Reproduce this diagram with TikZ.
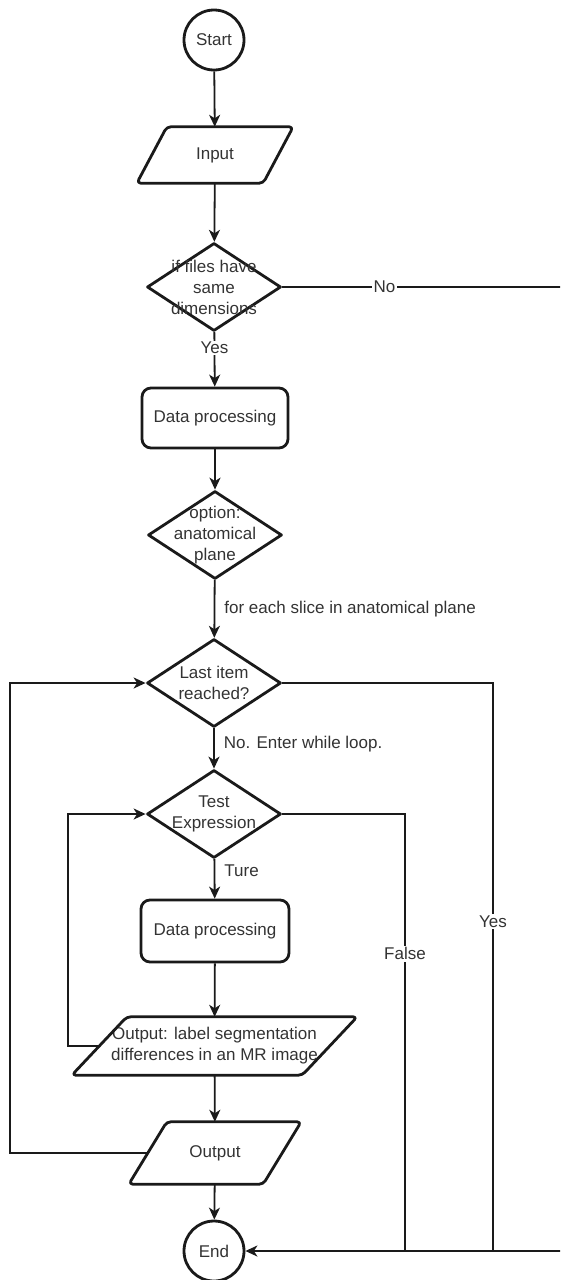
\documentclass[tikz,border=0pt]{standalone}
\usepackage{fontspec}
\setmainfont{Liberation Sans}
\usetikzlibrary{shapes.geometric,arrows.meta}
\definecolor{ink}{HTML}{1A1A1A}
\definecolor{txt}{HTML}{333333}
\tikzset{
  base/.style={font=\fontsize{17}{21}\selectfont, text=txt, align=center},
  shapeline/.style={draw=ink, line width=2.8pt, line join=round},
  terminal/.style={base, shapeline, circle, minimum size=60pt, inner sep=0pt},
  process/.style={base, shapeline, rectangle, rounded corners=9pt,
    minimum width=146pt, minimum height=60pt, inner sep=0pt},
  decision/.style={shapeline, diamond, minimum width=134pt,
    minimum height=88pt, inner sep=0pt},
  iobox/.style={base, rectangle, inner sep=0pt},
  conn/.style={draw=ink, line width=1.8pt},
  arr/.style={conn, -{Stealth[length=12pt,width=11pt,inset=3.5pt]}},
  onlbl/.style={base, fill=white, inner sep=1.5pt},
  sidelbl/.style={base, anchor=west, inner sep=0pt, xshift=9pt},
}
% parallelogram outline around an input/output node: #1 node, #2 slant
\newcommand\ioshape[2]{%
  \draw[shapeline, rounded corners=4pt]
    ([xshift=#2*0.5]#1.north west) -- ([xshift=#2*0.5]#1.north east)
    -- ([xshift=-#2*0.5]#1.south east) -- ([xshift=-#2*0.5]#1.south west)
    -- cycle;}
\begin{document}
\begin{tikzpicture}[x=1pt, y=-1pt]
  \useasboundingbox (0,0) rectangle (560,1280);
  \clip (0,0) rectangle (560,1280);

  % main column
  \node[terminal] (start) at (214,40) {Start};
  \node[iobox, minimum width=126pt, minimum height=56pt] (in) at (215,155) {Input};
  \ioshape{in}{30}
  \node[decision] (d1) at (214,287) {};
  \node[base] (d1t) at (d1) {if files have\\same\\dimensions};
  \node[process] (dp1) at (215,418) {Data processing};
  \node[decision] (d2) at (215,535) {};
  \node[base] (d2t) at (d2) {option:\\anatomical\\plane};
  \node[decision] (d3) at (214,683) {};
  \node[base] (d3t) at (d3) {Last item\\reached?};
  \node[decision] (d4) at (214,814) {};
  \node[base] (d4t) at (d4) {Test\\Expression};
  \node[process, minimum width=148pt, minimum height=62pt] (dp2) at (215,931) {Data processing};
  \node[iobox, minimum width=230pt, minimum height=58pt] (o2) at (214.5,1046)
    {Output: label segmentation\\differences in an MR image};
  \ioshape{o2}{55}
  \node[iobox, minimum width=134pt, minimum height=62pt] (o1) at (215,1153) {Output};
  \ioshape{o1}{38}
  \node[terminal] (end) at (214,1251) {End};

  % routing points
  \coordinate (noTop) at (566,287);
  \coordinate (noBot) at (566,1251);
  \coordinate (yesTop) at (493,683);
  \coordinate (yesBot) at (493,1251);
  \coordinate (falseTop) at (405,814);
  \coordinate (falseBot) at (405,1251);
  \coordinate (outerL) at (10,1153);
  \coordinate (outerT) at (10,683);
  \coordinate (innerL) at (68,1046);
  \coordinate (innerT) at (68,814);

  % straight flow
  \draw[arr] (start) -- (in);
  \draw[arr] (in) -- (d1);
  \draw[arr] (d1) -- node[onlbl, pos=0.29] {Yes} (dp1);
  \draw[arr] (dp1) -- (d2);
  \draw[arr] (d2) -- node[sidelbl, pos=0.5] {for each slice in anatomical plane} (d3);
  \draw[arr] (d3) -- node[sidelbl, pos=0.38] {No. Enter while loop.} (d4);
  \draw[arr] (d4) -- node[sidelbl, pos=0.3] {Ture} (dp2);
  \draw[arr] (dp2) -- (o2);
  \draw[arr] (o2) -- (o1);
  \draw[arr] (o1) -- (end);

  % loops back
  \draw[arr] (o2.west) -- (innerL) -- (innerT) -- (d4.west);
  \draw[arr] (o1.west) -- (outerL) -- (outerT) -- (d3.west);

  % exits to End
  \draw[conn] (d1.east) -- node[onlbl, pos=0.36] {No} (noTop) -- (noBot);
  \draw[conn] (d3.east) -- (yesTop) -- node[onlbl, pos=0.42] {Yes} (yesBot);
  \draw[conn] (d4.east) -- (falseTop) -- node[onlbl, pos=0.32] {False} (falseBot);
  \draw[arr] (noBot) -- (end.east);
\end{tikzpicture}
\end{document}
